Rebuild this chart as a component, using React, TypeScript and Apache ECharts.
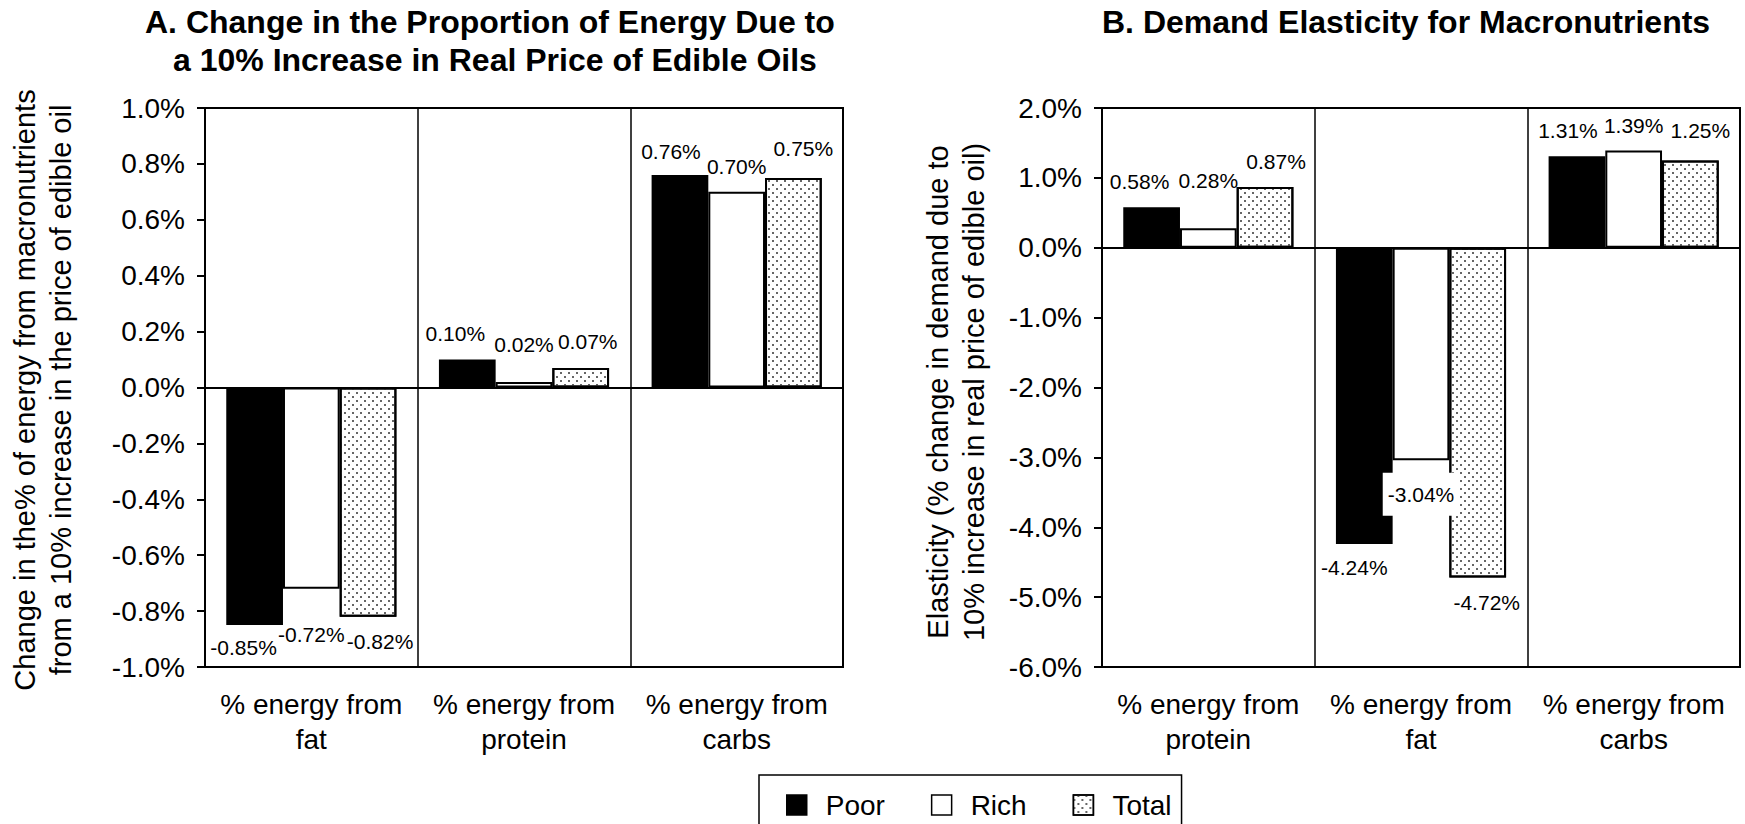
import React, { useEffect, useRef } from "react";
import * as echarts from "echarts";

// ---- data ----
const CATS_A = ["% energy from\nfat", "% energy from\nprotein", "% energy from\ncarbs"];
const POOR_A = [-0.85, 0.1, 0.76];
const RICH_A = [-0.72, 0.02, 0.7];
const TOTAL_A = [-0.82, 0.07, 0.75];

const CATS_B = ["% energy from\nprotein", "% energy from\nfat", "% energy from\ncarbs"];
const POOR_B = [0.58, -4.24, 1.31];
const RICH_B = [0.28, -3.04, 1.39];
const TOTAL_B = [0.87, -4.72, 1.25];

const SERIES_NAMES = ["Poor", "Rich", "Total"];

const TITLE_A1 = "A. Change in the Proportion of Energy Due to";
const TITLE_A2 = "a 10% Increase in Real Price of Edible Oils";
const TITLE_B = "B. Demand Elasticity for Macronutrients";
const YNAME_A = "Change in the% of energy from macronutrients\nfrom a 10% increase in the price of edible oil";
const YNAME_B = "Elasticity (% change in demand due to\n10% increase in real price of edible oil)";

// label nudges [dx, dy] (style only)
const NUDGE_A = [
  [[-11, 6.5], [-12, -10.5], [-9, -8.5]],
  [[0, 30.5], [0, -21.5], [0, -10]],
  [[12, 9], [7, -10.5], [10, -13.5]],
];
const NUDGE_B = [
  [[-12, -10.5], [-10, 8], [-9, -10.5]],
  [[0, -32.5], [0, 7.5], [0, -10]],
  [[11, -9.5], [9, 9.5], [10, -14.5]],
];

const FONT = "'Liberation Sans', Arial, Helvetica, sans-serif";

const STYLES = [
  { color: "#000", borderColor: "#000", borderWidth: 2 },
  { color: "#fff", borderColor: "#000", borderWidth: 2 },
  {
    color: "#fff",
    borderColor: "#000",
    borderWidth: 2,
    decal: {
      symbol: "rect",
      symbolSize: 1,
      color: "#666",
      backgroundColor: "#fff",
      dashArrayX: [[2, 6], [0, 4, 2, 2]],
      dashArrayY: [2, 2],
      rotation: 0,
    },
  },
];

function makeSeries(values: number[], si: number, gi: number, nudges: number[][][]) {
  const isRichBFat = (idx: number) => gi === 1 && si === 1 && idx === 1;
  return {
    type: "bar",
    name: SERIES_NAMES[si],
    xAxisIndex: gi,
    yAxisIndex: gi,
    barGap: "0%",
    barCategoryGap: "20%",
    z: si === 1 ? 3 : 2,
    itemStyle: STYLES[si],
    label: {
      show: true,
      color: "#000",
      fontSize: 21,
      fontFamily: FONT,
      distance: 5,
      formatter: (p: any) => Number(p.value).toFixed(2) + "%",
    },
    data: values.map((v, idx) => ({
      value: v,
      label: {
        position: v < 0 ? "bottom" : "top",
        offset: nudges[si][idx],
        ...(isRichBFat(idx) ? { backgroundColor: "#fff", padding: [11, 5] } : {}),
      },
    })),
    ...(si === 0
      ? {
          markLine: {
            silent: true,
            symbol: "none",
            label: { show: false },
            lineStyle: { color: "#000", width: 2, type: "solid" },
            data: [{ yAxis: 0 }],
          },
        }
      : {}),
  };
}

const axisText = { color: "#000", fontSize: 28, fontFamily: FONT };

function xAxis(cats: string[], gi: number) {
  return {
    type: "category",
    gridIndex: gi,
    data: cats,
    axisLine: { show: true, onZero: false, lineStyle: { color: "#000", width: 2 } },
    axisTick: { show: false },
    axisLabel: { ...axisText, lineHeight: 35, margin: 20, interval: 0 },
    splitLine: { show: true, lineStyle: { color: "#000", width: 1.5 } },
  };
}

function yAxis(gi: number, min: number, max: number, interval: number) {
  return {
    type: "value",
    gridIndex: gi,
    min,
    max,
    interval,
    axisLine: { show: true, lineStyle: { color: "#000", width: 2 } },
    axisTick: { show: true, inside: false, length: 8, lineStyle: { color: "#000", width: 2 } },
    axisLabel: {
      ...axisText,
      margin: 20,
      formatter: (v: number) => (Math.abs(v) < 1e-9 ? 0 : v).toFixed(1) + "%",
    },
    splitLine: { show: false },
  };
}

export default function App() {
  const ref = useRef<HTMLDivElement>(null);
  useEffect(() => {
    document.body.style.margin = "0";
    if (!ref.current) return;
    const chart = echarts.init(ref.current, undefined, { renderer: "svg" });
    const titleStyle = { color: "#000", fontSize: 32, fontWeight: "bold", fontFamily: FONT, lineHeight: 38 };
    chart.setOption({
      animation: false,
      backgroundColor: "#fff",
      title: [
        { text: TITLE_A1, left: 145, top: 3, padding: 0, textStyle: titleStyle },
        { text: TITLE_A2, left: 173, top: 41, padding: 0, textStyle: titleStyle },
        { text: TITLE_B, left: 1102, top: 3, padding: 0, textStyle: titleStyle },
      ],
      legend: {
        data: SERIES_NAMES,
        left: 759,
        top: 775,
        orient: "horizontal",
        icon: "rect",
        itemWidth: 20,
        itemHeight: 20,
        itemGap: 46,
        borderColor: "#000",
        borderWidth: 1.5,
        padding: [16, 10, 16, 27],
        itemStyle: { borderColor: "#000", borderWidth: 1.5 },
        textStyle: { color: "#000", fontSize: 28, fontFamily: FONT, padding: [0, 0, 0, 14] },
        selectedMode: false,
      },
      grid: [
        { left: 205, top: 108, width: 638, height: 559, show: true, borderColor: "#000", borderWidth: 2, containLabel: false },
        { left: 1102, top: 108, width: 638, height: 559, show: true, borderColor: "#000", borderWidth: 2, containLabel: false },
      ],
      xAxis: [xAxis(CATS_A, 0), xAxis(CATS_B, 1)],
      yAxis: [yAxis(0, -1, 1, 0.2), yAxis(1, -6, 2, 1)],
      graphic: [
        {
          type: "text",
          x: 43,
          y: 390,
          rotation: Math.PI / 2,
          style: {
            text: YNAME_A,
            fill: "#000",
            font: `29px ${FONT}`,
            lineHeight: 36,
            align: "center",
            verticalAlign: "middle",
          },
        },
        {
          type: "text",
          x: 956,
          y: 392,
          rotation: Math.PI / 2,
          style: {
            text: YNAME_B,
            fill: "#000",
            font: `29px ${FONT}`,
            lineHeight: 36,
            align: "center",
            verticalAlign: "middle",
          },
        },
      ],
      series: [
        makeSeries(POOR_A, 0, 0, NUDGE_A),
        makeSeries(RICH_A, 1, 0, NUDGE_A),
        makeSeries(TOTAL_A, 2, 0, NUDGE_A),
        makeSeries(POOR_B, 0, 1, NUDGE_B),
        makeSeries(RICH_B, 1, 1, NUDGE_B),
        makeSeries(TOTAL_B, 2, 1, NUDGE_B),
      ],
    });
    return () => chart.dispose();
  }, []);
  return <div ref={ref} style={{ width: 1745, height: 824 }} />;
}
